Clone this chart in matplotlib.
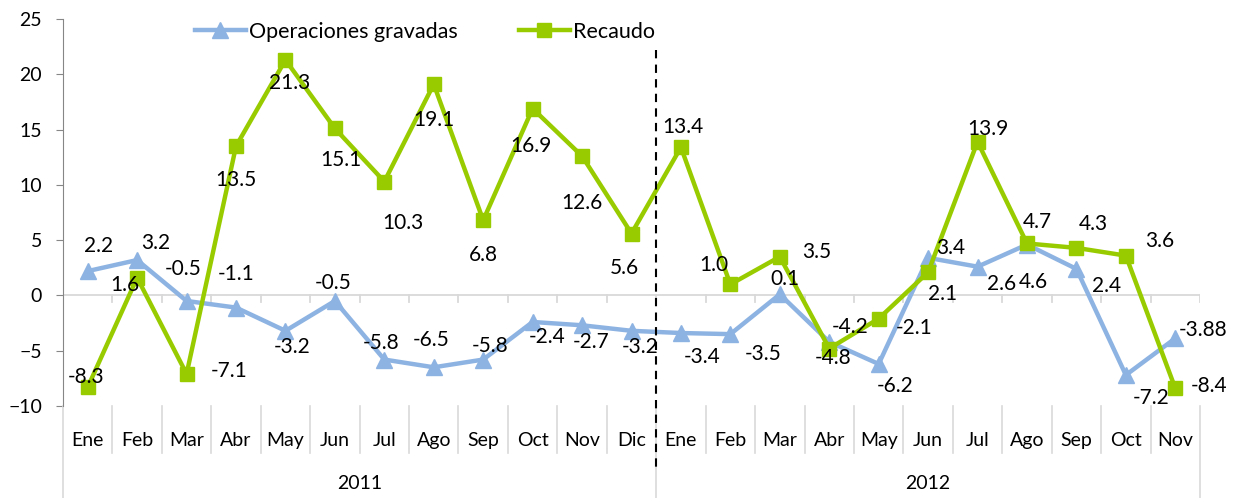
import matplotlib
matplotlib.use("Agg")
import matplotlib.pyplot as plt
import matplotlib.transforms as mtransforms

months = ["Ene", "Feb", "Mar", "Abr", "May", "Jun", "Jul", "Ago", "Sep", "Oct", "Nov", "Dic",
          "Ene", "Feb", "Mar", "Abr", "May", "Jun", "Jul", "Ago", "Sep", "Oct", "Nov"]
years = ["2011", "2012"]
year_sizes = [12, 11]

operaciones = [2.2, 3.2, -0.5, -1.1, -3.2, -0.5, -5.8, -6.5, -5.8, -2.4, -2.7, -3.2,
               -3.4, -3.5, 0.1, -4.2, -6.2, 3.4, 2.6, 4.6, 2.4, -7.2, -3.88]
recaudo = [-8.3, 1.6, -7.1, 13.5, 21.3, 15.1, 10.3, 19.1, 6.8, 16.9, 12.6, 5.6,
           13.4, 1.0, 3.5, -4.8, -2.1, 2.1, 13.9, 4.7, 4.3, 3.6, -8.4]

# label offsets in pixels (dx, dy with dy pointing down like the image)
off_op = [(11, -25), (19, -17), (-3, -32), (0, -34), (7, 16), (-2, -18), (-3, -17), (-3, -27),
          (7, -14), (14, 15), (9, 17), (9, 16), (21, 24), (33, 20), (5, -15), (21, -15),
          (16, 22), (23, -10), (24, 17), (6, 37), (30, 17), (25, 23), (28, -8)]
off_rec = [(-2, -10), (-12, 7), (43, -3), (0, 34), (4, 23), (6, 32), (19, 41), (0, 36),
           (0, 35), (-2, 37), (0, 47), (-7, 34), (2, -20), (-17, -19), (37, -5), (4, 9),
           (35, 9), (14, 22), (10, -13), (10, -21), (17, -24), (34, -15), (34, -2)]

plt.rcParams['font.family'] = ['Lato', 'DejaVu Sans']

W, H = 1237, 498
fig = plt.figure(figsize=(W / 100, H / 100), dpi=100)
ax = fig.add_axes([63 / W, 1 - 406 / H, (1200 - 63) / W, (406 - 19) / H])

x = list(range(len(months)))
blue = '#8DB3E2'
green = '#99CC00'

l1, = ax.plot(x, operaciones, color=blue, lw=3.2, marker='^', ms=12, mec=blue, mfc=blue,
              label='Operaciones gravadas', zorder=3)
l2, = ax.plot(x, recaudo, color=green, lw=3.2, marker='s', ms=10, mec=green, mfc=green,
              label='Recaudo', zorder=4)

for i, v in enumerate(operaciones):
    dx, dy = off_op[i]
    ax.annotate(str(v), (i, v), xytext=(dx, -dy), textcoords='offset pixels',
                ha='center', va='center', fontsize=15, zorder=5)
for i, v in enumerate(recaudo):
    dx, dy = off_rec[i]
    ax.annotate(str(v), (i, v), xytext=(dx, -dy), textcoords='offset pixels',
                ha='center', va='center', fontsize=15, zorder=5)

ax.set_xlim(-0.5, len(months) - 0.5)
ax.set_ylim(-10, 25)
ax.set_yticks(range(-10, 30, 5))
ax.tick_params(axis='y', labelsize=14, length=5, color='#868686', pad=10)
ax.set_xticks([])
for s in ['top', 'right', 'bottom']:
    ax.spines[s].set_visible(False)
ax.spines['left'].set_color('#868686')

grid_c = '#D9D9D9'
ax.axhline(0, color=grid_c, lw=1.3, zorder=1)
trans = mtransforms.blended_transform_factory(ax.transData, ax.transAxes)
for b in [i - 0.5 for i in range(len(months) + 1)]:
    ax.plot([b, b], [0, -0.55], color=grid_c, lw=1.3, zorder=1)

# category axis below the plot
year_bounds = [-0.5]
for n in year_sizes:
    year_bounds.append(year_bounds[-1] + n)
for b in [i - 0.5 for i in range(len(months) + 1)]:
    y0 = -0.238 if b in year_bounds else -0.121
    ax.plot([b, b], [0, y0], color=grid_c, lw=1.2, transform=trans, clip_on=False)
for i, m in enumerate(months):
    ax.text(i, -0.088, m, transform=trans, ha='center', va='center', fontsize=14)
for k, yname in enumerate(years):
    ax.text((year_bounds[k] + year_bounds[k + 1]) / 2, -0.199, yname, transform=trans,
            ha='center', va='center', fontsize=14)

# separator between years
ax.plot([11.5, 11.5], [0.92, -0.16], color='black', lw=1.5, ls=(0, (4, 3)),
        transform=trans, clip_on=False, zorder=6)

fig.legend(handles=[l1, l2], loc='center', bbox_to_anchor=(425 / W, 1 - 32 / H), ncol=2,
           frameon=False, fontsize=15.5, handlelength=2.4, handletextpad=0.15,
           columnspacing=2.8)

fig.savefig('out.png', dpi=100)
